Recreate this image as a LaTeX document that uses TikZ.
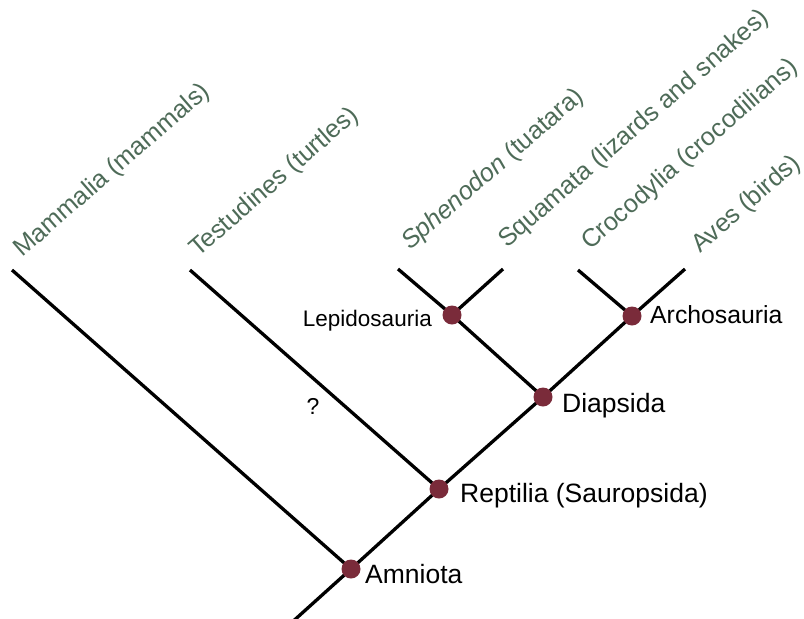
\documentclass[tikz,border=0pt]{standalone}
\usepackage{fontspec}
\setmainfont{Liberation Sans}
\definecolor{taxgreen}{HTML}{4E6B58}
\definecolor{dotred}{HTML}{7A2B3A}
\begin{document}
\begin{tikzpicture}[x=1pt,y=-1pt,
  branch/.style={line width=3.3pt,black},
  clade/.style={circle,fill=dotred,inner sep=0pt,minimum size=19pt},
  taxon/.style={anchor=base west,inner sep=0pt,rotate=41,text=taxgreen,font=\fontsize{25.3}{30}\selectfont},
  cladelbl/.style={inner sep=0pt,font=\fontsize{26.5}{30}\selectfont}]
\useasboundingbox (0,0) rectangle (804,619);
\clip (0,0) rectangle (804,619);
% tips
\coordinate (mam) at (12,270);
\coordinate (tes) at (190,270);
\coordinate (sph) at (398,269);
\coordinate (squ) at (503,269);
\coordinate (cro) at (578,270);
\coordinate (ave) at (685,269);
\coordinate (root) at (290,624);
% internal nodes
\coordinate (amn) at (351,569);
\coordinate (rep) at (439,489);
\coordinate (dia) at (543,397);
\coordinate (lep) at (452,315);
\coordinate (arc) at (632,316);
% branches
\draw[branch] (root) -- (amn) -- (rep) -- (dia) -- (arc) -- (ave);
\draw[branch] (mam) -- (amn);
\draw[branch] (tes) -- (rep);
\draw[branch] (dia) -- (lep) -- (sph);
\draw[branch] (lep) -- (squ);
\draw[branch] (arc) -- (cro);
% dots
\node[clade] (namn) at (amn) {};
\node[clade] (nrep) at (rep) {};
\node[clade] (ndia) at (dia) {};
\node[clade] (nlep) at (lep) {};
\node[clade] (narc) at (arc) {};
% clade labels
\node[cladelbl,anchor=base west] (lamn) at ([xshift=14pt,yshift=-14pt]namn.center) {Amniota};
\node[cladelbl,anchor=base west] (lrep) at ([xshift=21pt,yshift=-13pt]nrep.center) {Reptilia (Sauropsida)};
\node[cladelbl,anchor=base west] (ldia) at ([xshift=19pt,yshift=-15pt]ndia.center) {Diapsida};
\node[inner sep=0pt,font=\fontsize{24.8}{28}\selectfont,anchor=base west] (larc) at ([xshift=18pt,yshift=-7pt]narc.center) {Archosauria};
\node[inner sep=0pt,font=\fontsize{22.5}{26}\selectfont,anchor=base east] (llep) at ([xshift=-20pt,yshift=-11pt]nlep.center) {Lepidosauria};
\node[inner sep=0pt,font=\fontsize{23}{26}\selectfont] (q) at (313,406) {?};
% taxon labels
\node[taxon] (tmam) at ([xshift=10pt,yshift=12pt]mam) {Mammalia (mammals)};
\node[taxon] (ttes) at ([xshift=8pt,yshift=12pt]tes) {Testudines (turtles)};
\node[taxon] (tsph) at ([xshift=12pt,yshift=18pt]sph) {\textit{Sphenodon} (tuatara)};
\node[taxon] (tsqu) at ([xshift=4pt,yshift=20pt]squ) {Squamata (lizards and snakes)};
\node[taxon] (tcro) at ([xshift=12pt,yshift=19pt]cro) {Crocodylia (crocodilians)};
\node[taxon] (tave) at ([xshift=15pt,yshift=15pt]ave) {Aves (birds)};
\end{tikzpicture}
\end{document}
